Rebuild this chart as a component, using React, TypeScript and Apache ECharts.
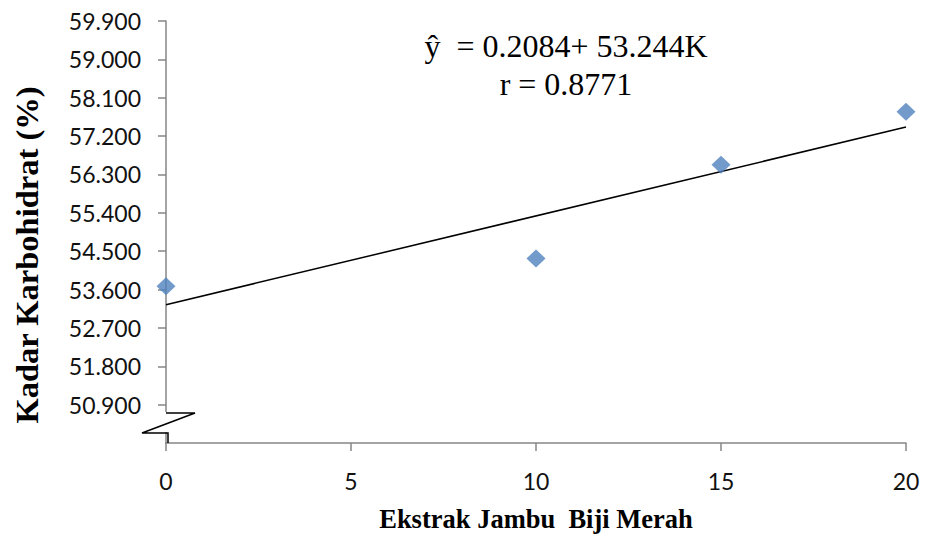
import React, { useEffect, useRef } from "react";
import * as echarts from "echarts";

const xValues = [0, 10, 15, 20];
const yValues = [53.68, 54.33, 56.53, 57.77];
const intercept = 53.244;
const slope = 0.2084;
const trendX = [0, 20];
const equationLines = ["ŷ  = 0.2084+ 53.244K", "r = 0.8771"];
const xTitle = "Ekstrak Jambu  Biji Merah";
const yTitle = "Kadar Karbohidrat (%)";

export default function App() {
  const ref = useRef<HTMLDivElement>(null);
  useEffect(() => {
    if (!ref.current) return;
    const chart = echarts.init(ref.current, undefined, { renderer: "svg" });
    const gridLeft = 166, gridTop = 21, gridRight = 20, gridBottom = 91;
    const axisBottom = 534 - gridBottom;
    chart.setOption({
      animation: false,
      backgroundColor: "#ffffff",
      grid: {
        left: gridLeft,
        top: gridTop,
        right: gridRight,
        bottom: gridBottom,
        containLabel: false,
        outerBoundsMode: "none",
      },
      xAxis: {
        type: "value",
        min: 0,
        max: 20,
        interval: 5,
        splitLine: { show: false },
        axisLine: { onZero: false, lineStyle: { color: "#868686", width: 1.5 } },
        axisTick: { show: true, length: 8, lineStyle: { color: "#868686", width: 1.5 } },
        axisLabel: { fontSize: 23, fontFamily: "Lato", color: "#111", margin: 26 },
        name: xTitle,
        nameLocation: "middle",
        nameGap: 62,
        nameTextStyle: { fontSize: 26.5, fontFamily: "Liberation Serif", fontWeight: "bold", color: "#000" },
      },
      yAxis: {
        type: "value",
        min: 50,
        max: 59.9,
        interval: 0.9,
        splitLine: { show: false },
        axisLine: { onZero: false, lineStyle: { color: "#868686", width: 1.5 } },
        axisTick: { show: true, length: 8, lineStyle: { color: "#868686", width: 1.5 } },
        axisLabel: {
          fontSize: 23,
          fontFamily: "Lato",
          color: "#111",
          margin: 25,
          formatter: (v: number) => (Math.abs(v - 50) < 1e-6 ? "" : v.toFixed(3)),
        },
      },
      series: [
        {
          type: "line",
          data: trendX.map((x) => [x, intercept + slope * x]),
          symbol: "none",
          lineStyle: { color: "#000", width: 1.5 },
          z: 2,
        },
        {
          type: "scatter",
          data: xValues.map((x, i) => [x, yValues[i]]),
          symbol: "diamond",
          symbolSize: [19, 18],
          itemStyle: { color: "#4F81BD" },
          z: 3,
        },
      ],
      graphic: [
        { type: "rect", shape: { x: 150, y: 412, width: 30, height: 20 }, style: { fill: "#fff" }, z: 10 },
        { type: "rect", shape: { x: 150, y: axisBottom - 4, width: 15, height: 8 }, style: { fill: "#fff" }, z: 10 },
        {
          type: "polyline",
          shape: { points: [[gridLeft, 413], [195, 413], [142, 433], [168, 433], [168, axisBottom]] },
          style: { stroke: "#000", lineWidth: 1.5, fill: null },
          z: 11,
        },
        {
          type: "text",
          x: 27,
          y: 255,
          rotation: Math.PI / 2,
          style: { text: yTitle, font: 'bold 32.5px "Liberation Serif"', fill: "#000", textAlign: "center", textVerticalAlign: "middle" },
          z: 11,
        },
        {
          type: "text",
          x: 566,
          y: 46,
          style: { text: equationLines[0], font: '32px "Liberation Serif"', fill: "#000", textAlign: "center", textVerticalAlign: "middle" },
          z: 11,
        },
        {
          type: "text",
          x: 566,
          y: 84,
          style: { text: equationLines[1], font: '32px "Liberation Serif"', fill: "#000", textAlign: "center", textVerticalAlign: "middle" },
          z: 11,
        },
      ],
    });
    return () => chart.dispose();
  }, []);
  return <div ref={ref} style={{ position: "fixed", left: 0, top: 0, width: 926, height: 534 }} />;
}
